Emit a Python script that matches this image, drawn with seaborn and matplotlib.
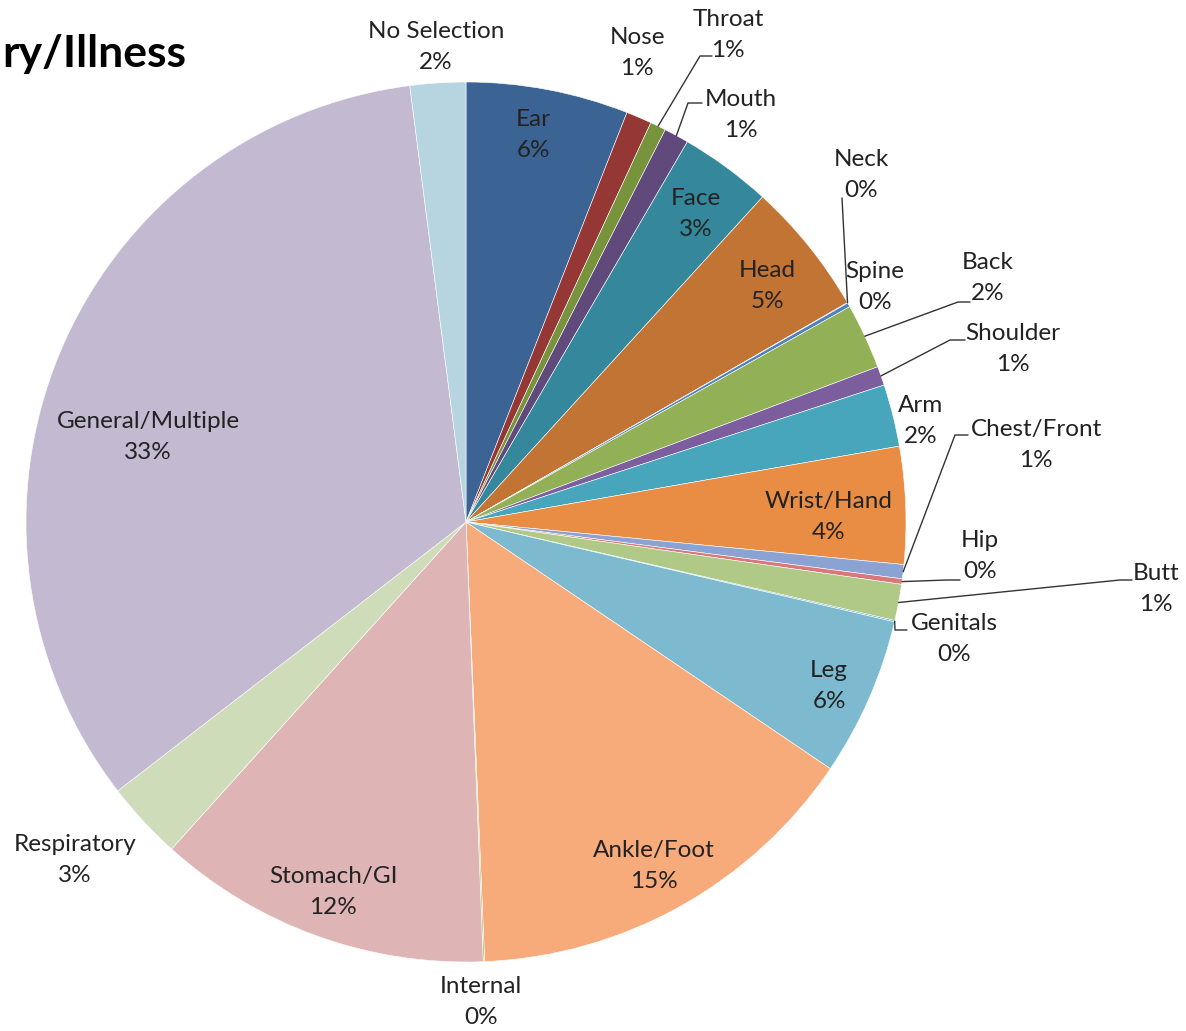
import numpy as np
import matplotlib
matplotlib.use("Agg")
import matplotlib.pyplot as plt
import seaborn as sns

# slice data, clockwise from 12 o'clock
parts = ["Ear", "Nose", "Throat", "Mouth", "Face", "Head", "Neck", "Spine",
         "Back", "Shoulder", "Arm", "Wrist/Hand", "Chest/Front", "Hip", "Butt",
         "Genitals", "Leg", "Ankle/Foot", "Internal", "Stomach/GI",
         "Respiratory", "General/Multiple", "No Selection"]
shares = [5.96, 0.94, 0.58, 0.91, 3.38, 4.92, 0.02, 0.15,
          2.40, 0.70, 2.28, 4.30, 0.52, 0.20, 1.33,
          0.05, 5.83, 14.85, 0.05, 12.29,
          2.87, 33.42, 2.04]
colors = ["#3B6494", "#953735", "#77933C", "#604A7B", "#35879C", "#C17434",
          "#1F497D", "#4F81BD", "#92B055", "#7C5E9E", "#47A5BC", "#E98C44",
          "#8AA3D2", "#D9777A", "#B0C987", "#4BACC6", "#7DBAD0", "#F7AB7B",
          "#9BBB59", "#DEB4B4", "#CFDCB9", "#C3B9D0", "#B6D5E0"]

# layout (pixel positions of label centres in the 1186x1031 canvas)
W, H = 1186, 1031
CX, CY, R = 466, 522, 440
label_pos = {
    "Ear": (533, 135), "Nose": (637, 53), "Throat": (728, 35),
    "Mouth": (741, 115), "Face": (696, 214), "Head": (767, 286),
    "Neck": (861, 175), "Spine": (875, 287), "Back": (988, 278),
    "Shoulder": (1013, 349), "Arm": (921, 421), "Wrist/Hand": (829, 517),
    "Chest/Front": (1036, 445), "Hip": (980, 556), "Butt": (1156, 589),
    "Genitals": (954, 639), "Leg": (829, 686), "Ankle/Foot": (654, 866),
    "Internal": (481, 1002), "Stomach/GI": (333, 892),
    "Respiratory": (75, 860), "General/Multiple": (148, 437),
    "No Selection": (436, 47),
}
# leader line points from the label side (in pixels); wedge end is computed
leaders = {
    "Throat": [(712, 56), (700, 56)],
    "Mouth": [(702, 103), (688, 103)],
    "Neck": [(842, 198)],
    "Back": [(970, 302), (958, 302)],
    "Shoulder": [(965, 340), (950, 340)],
    "Chest/Front": [(968, 435), (955, 435)],
    "Hip": [(960, 580), (947, 580)],
    "Butt": [(1132, 580), (1120, 580)],
    "Genitals": [(907, 630), (895, 630)],
}


def to_data(p):
    return ((p[0] - CX) / R, (CY - p[1]) / R)


sns.set_theme(style="white")
plt.rcParams["font.family"] = ["Lato", "DejaVu Sans"]

fig = plt.figure(figsize=(W / 100, H / 100), dpi=100)
ax = fig.add_axes([0, 0, 1, 1])

wedges, _ = ax.pie(shares, colors=colors, startangle=90, counterclock=False,
                   radius=1, wedgeprops=dict(edgecolor="white", linewidth=0.4))
ax.set_xlim(-CX / R, (W - CX) / R)
ax.set_ylim(-(H - CY) / R, CY / R)
ax.set_aspect("equal")
ax.axis("off")

total = sum(shares)
for name, val, w in zip(parts, shares, wedges):
    pct = int(round(val / total * 100))
    x, y = to_data(label_pos[name])
    ax.text(x, y, f"{name}\n{pct}%", ha="center", va="center",
            fontsize=17.5, linespacing=1.6, color="#222222")
    if name in leaders:
        mid = np.deg2rad((w.theta1 + w.theta2) / 2)
        pts = [to_data(p) for p in leaders[name]] + [(np.cos(mid), np.sin(mid))]
        xs, ys = zip(*pts)
        ax.plot(xs, ys, color="#333333", lw=1)

fig.text(2 / W, 1 - 67 / H, "ry/Illness", ha="left", va="baseline",
         fontsize=32, fontweight="bold", color="black")

fig.savefig("out.png", dpi=100, facecolor="white")
